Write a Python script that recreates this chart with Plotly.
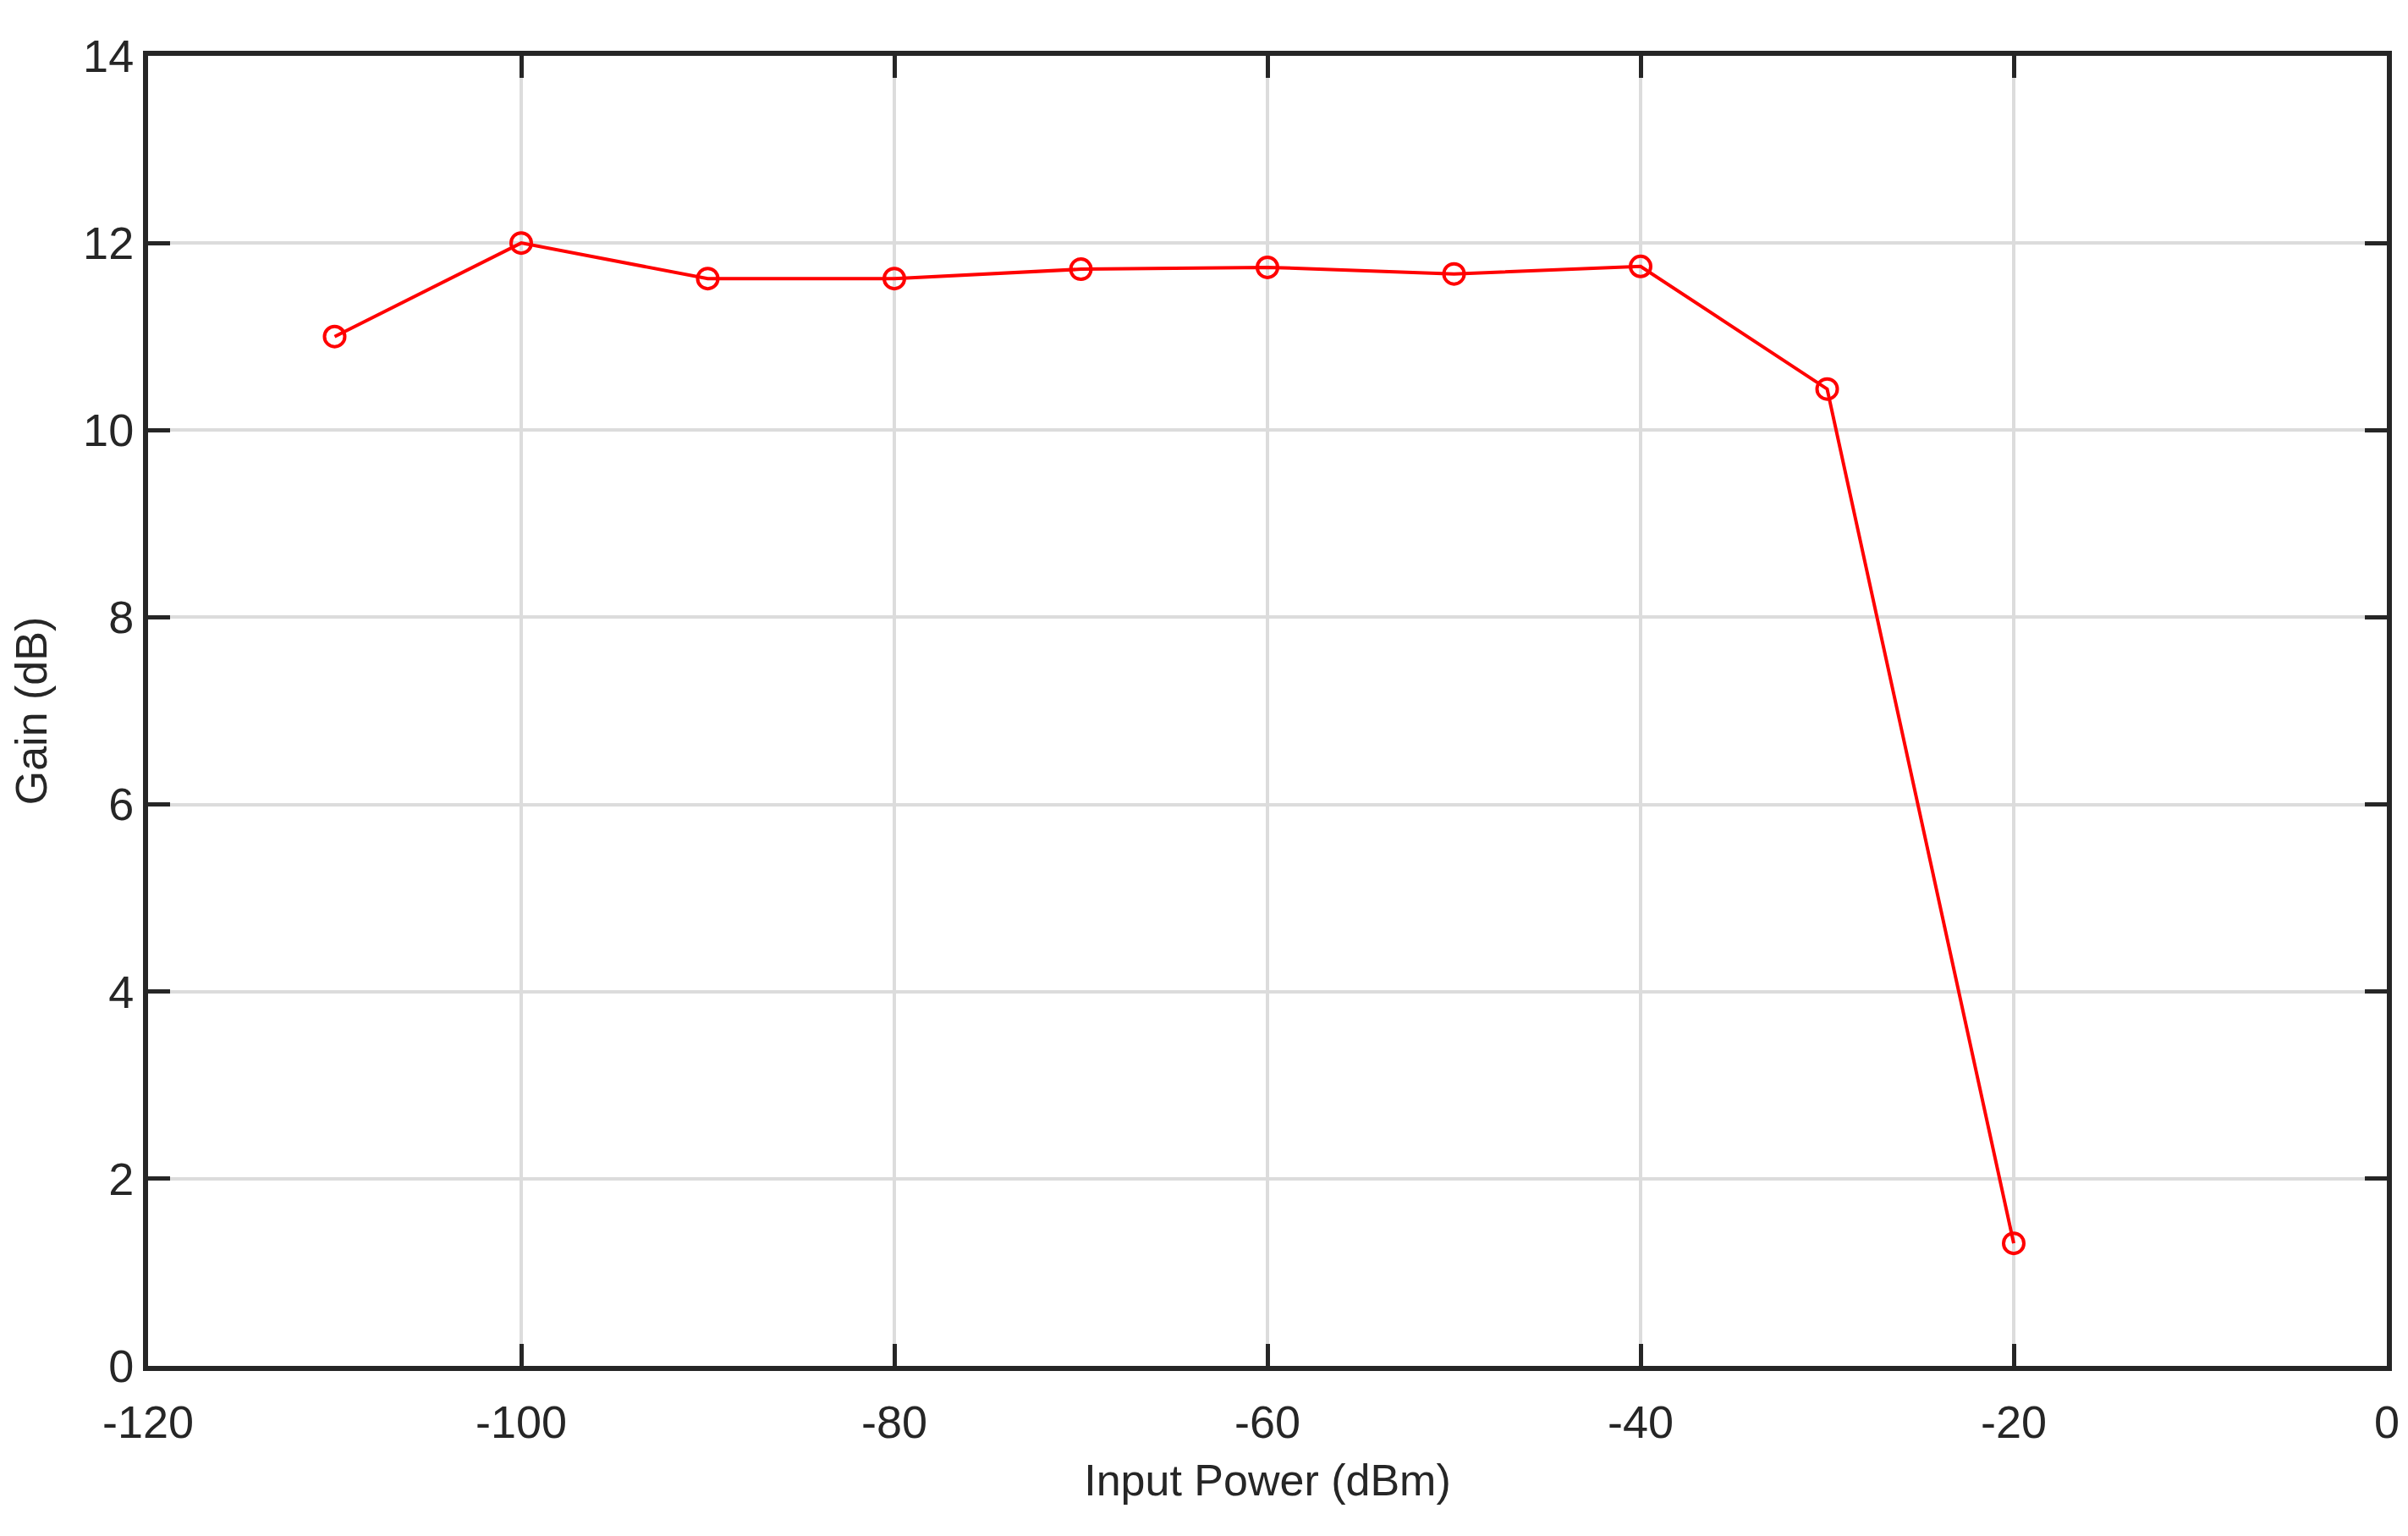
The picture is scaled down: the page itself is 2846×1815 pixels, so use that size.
import plotly.graph_objects as go

input_power = [-110, -100, -90, -80, -70, -60, -50, -40, -30, -20]
gain = [11.0, 12.0, 11.62, 11.62, 11.72, 11.74, 11.67, 11.75, 10.44, 1.31]

x_ticks = [-120, -100, -80, -60, -40, -20, 0]
y_ticks = [0, 2, 4, 6, 8, 10, 12, 14]

font_name = "Liberation Sans Narrow, Liberation Sans, Arial, sans-serif"
axis_color = "#262626"

fig = go.Figure()
fig.add_trace(go.Scatter(
    x=input_power, y=gain,
    mode="lines+markers",
    line=dict(color="#ff0000", width=4),
    marker=dict(symbol="circle-open", size=24, color="#ff0000", line=dict(width=4)),
    showlegend=False,
))

axis_common = dict(
    showline=True, linewidth=6, linecolor=axis_color, mirror="ticks",
    ticks="inside", ticklen=26, tickwidth=5, tickcolor=axis_color,
    showgrid=True, gridcolor="#dcdcdc", gridwidth=4,
    zeroline=False,
    tickfont=dict(family=font_name, size=54, color="#262626"),
)

fig.update_xaxes(
    range=[-120, 0], tickvals=x_ticks,
    ticktext=[str(v) for v in x_ticks],
    ticklabelstandoff=14,
    title=dict(text="Input Power (dBm)", font=dict(family=font_name, size=52, color="#262626"), standoff=24),
    **axis_common,
)
fig.update_yaxes(
    range=[0, 14], tickvals=y_ticks,
    title=dict(text="Gain (dB)", font=dict(family=font_name, size=52, color="#262626"), standoff=30),
    **axis_common,
)

fig.update_layout(
    width=2846, height=1815,
    margin=dict(l=167, r=33, t=58, b=209),
    plot_bgcolor="white", paper_bgcolor="white",
)

fig.write_html("out.html")
